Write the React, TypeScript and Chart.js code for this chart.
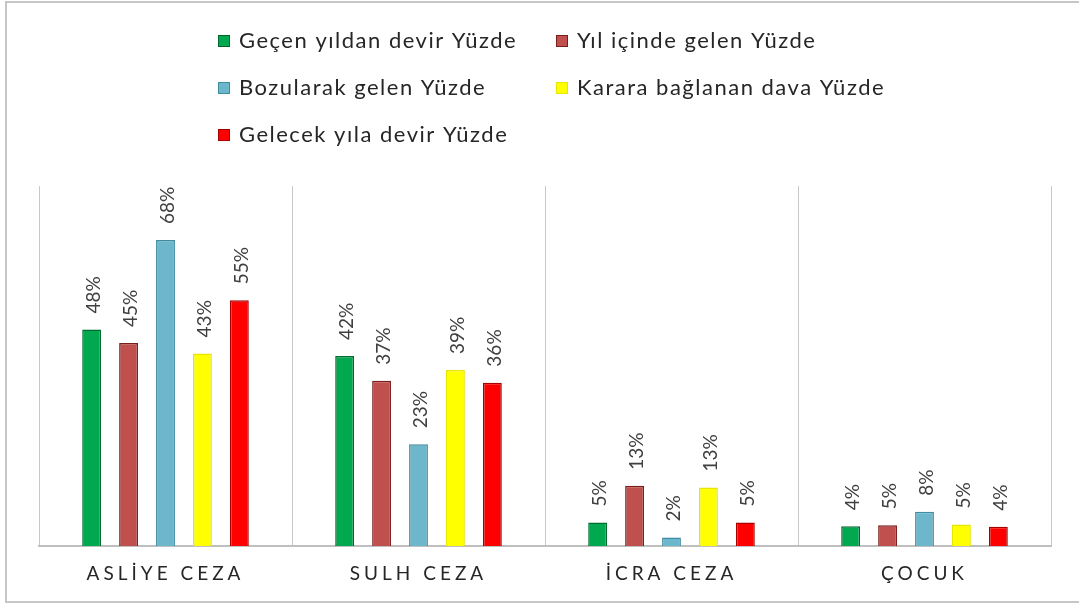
import React, { useEffect, useRef } from "react";
import { Chart, registerables } from "chart.js";

Chart.register(...registerables);

const categories = ["ASLİYE CEZA", "SULH CEZA", "İCRA CEZA", "ÇOCUK"];
const seriesNames = [
  "Geçen yıldan devir Yüzde",
  "Yıl içinde gelen Yüzde",
  "Bozularak gelen Yüzde",
  "Karara bağlanan dava Yüzde",
  "Gelecek yıla devir Yüzde",
];
const gecenYildanDevir = [48.1, 42.2, 5.2, 4.4];
const yilIcindeGelen = [45.1, 36.7, 13.4, 4.6];
const bozularakGelen = [68.0, 22.6, 1.9, 7.6];
const kararaBaglanan = [42.8, 39.1, 13.0, 4.8];
const gelecekYilaDevir = [54.6, 36.3, 5.2, 4.3];
const seriesValues = [gecenYildanDevir, yilIcindeGelen, bozularakGelen, kararaBaglanan, gelecekYilaDevir];

const fillColors = ["#00a84f", "#c0504d", "#6cb7cb", "#ffff00", "#ff0000"];
const edgeColors = ["#006b30", "#7a1e1c", "#3f8ba0", "#e6e600", "#a80000"];

const FONT = "Lato, 'Open Sans', sans-serif";

const letterSpacingPlugin = {
  id: "tickLetterSpacing",
  beforeDraw(chart: any) {
    (chart.ctx as any).letterSpacing = "4px";
  },
  beforeDatasetsDraw(chart: any) {
    (chart.ctx as any).letterSpacing = "0px";
  },
};

const valueLabelPlugin = {
  id: "valueLabels",
  afterDatasetsDraw(chart: any) {
    const ctx = chart.ctx;
    ctx.save();
    (ctx as any).letterSpacing = "0px";
    ctx.font = `19px ${FONT}`;
    ctx.fillStyle = "#404040";
    ctx.textAlign = "left";
    ctx.textBaseline = "middle";
    chart.data.datasets.forEach((ds: any, di: number) => {
      const meta = chart.getDatasetMeta(di);
      meta.data.forEach((el: any, i: number) => {
        const v = ds.data[i];
        ctx.save();
        ctx.translate(el.x + 2, el.y - 16);
        ctx.rotate(-Math.PI / 2);
        ctx.fillText(Math.round(v) + "%", 0, 0);
        ctx.restore();
      });
    });
    ctx.restore();
  },
};

const customLegendPlugin = {
  id: "customLegend",
  afterDraw(chart: any) {
    const ctx = chart.ctx;
    const cols = [218, 556];
    const rows = [41, 88, 135];
    ctx.save();
    (ctx as any).letterSpacing = "1.5px";
    ctx.font = `22px ${FONT}`;
    ctx.textAlign = "left";
    ctx.textBaseline = "middle";
    chart.data.datasets.forEach((ds: any, i: number) => {
      const x = cols[i % 2];
      const y = rows[Math.floor(i / 2)];
      ctx.fillStyle = ds.backgroundColor;
      ctx.fillRect(x, y - 6, 12, 12);
      ctx.strokeStyle = ds.borderColor;
      ctx.lineWidth = 1;
      ctx.strokeRect(x + 0.5, y - 5.5, 11, 11);
      ctx.fillStyle = "#262626";
      ctx.fillText(ds.label, x + 21, y);
    });
    ctx.restore();
  },
};

export default function App() {
  const ref = useRef<HTMLCanvasElement | null>(null);
  useEffect(() => {
    if (!ref.current) return;
    const chart = new Chart(ref.current, {
      type: "bar",
      data: {
        labels: categories,
        datasets: seriesNames.map((name, i) => ({
          label: name,
          data: seriesValues[i],
          backgroundColor: fillColors[i],
          borderColor: edgeColors[i],
          borderWidth: 1.5,
          categoryPercentage: 0.73,
          barPercentage: 0.51,
        })),
      },
      options: {
        responsive: false,
        animation: false,
        layout: { padding: { left: 39, right: 28, top: 186, bottom: 0 } },
        plugins: {
          legend: { display: false },
          tooltip: { enabled: false },
        },
        scales: {
          x: {
            grid: { color: "#c8c8c8", offset: true, drawTicks: false, lineWidth: 1 },
            border: { color: "#bfbfbf", width: 2 },
            ticks: {
              color: "#262626",
              font: { family: FONT, size: 19 },
              padding: 16,
            },
            afterFit: (s: any) => {
              s.height = 60;
            },
          },
          y: { display: false, min: 0, max: 80 },
        },
      },
      plugins: [letterSpacingPlugin, valueLabelPlugin, customLegendPlugin],
    });
    return () => chart.destroy();
  }, []);
  return (
    <div style={{ position: "fixed", left: 0, top: 0, width: 1079, height: 606, background: "#ffffff", overflow: "hidden" }}>
      <div
        style={{
          position: "absolute",
          left: 5,
          top: 1,
          width: 1090,
          height: 602,
          border: "2px solid #c6c6c6",
          boxSizing: "border-box",
        }}
      />
      <canvas ref={ref} width={1079} height={606} style={{ position: "absolute", left: 0, top: 0 }} />
    </div>
  );
}
